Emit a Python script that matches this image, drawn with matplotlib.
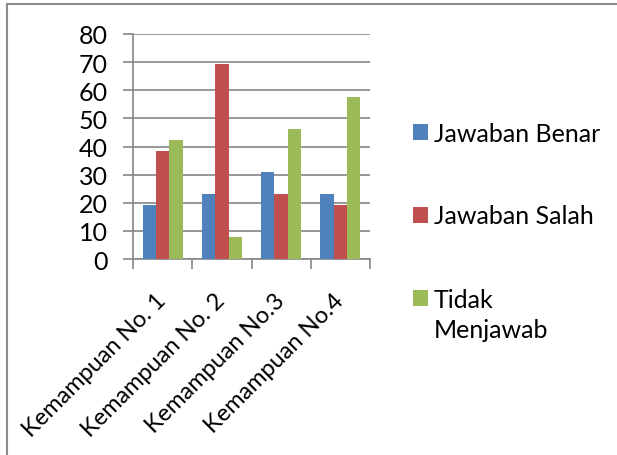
import matplotlib
matplotlib.use("Agg")
import matplotlib.pyplot as plt
import numpy as np
from matplotlib.lines import Line2D

categories = ["Kemampuan No. 1", "Kemampuan No. 2", "Kemampuan No.3", "Kemampuan No.4"]
series_names = ["Jawaban Benar", "Jawaban Salah", "Tidak Menjawab"]
benar = [19.2, 23.1, 30.8, 23.1]
salah = [38.5, 69.2, 23.1, 19.2]
tidak = [42.3, 7.7, 46.2, 57.7]
colors = ["#4F81BD", "#C0504D", "#9BBB59"]
yticks = [0, 10, 20, 30, 40, 50, 60, 70, 80]

plt.rcParams["font.family"] = ["Lato", "DejaVu Sans"]
FS = 18
GRID = "#868686"

fig = plt.figure(figsize=(6.17, 4.56), dpi=100)
ax = fig.add_axes([133 / 617, 1 - 260 / 456, (370 - 133) / 617, (260 - 35) / 456])

x = np.arange(len(categories))
width = 0.225
bars = []
for i, (vals, name, col) in enumerate(zip([benar, salah, tidak], series_names, colors)):
    b = ax.bar(x + (i - 1) * width, vals, width, color=col, label=name, zorder=3)
    bars.append(b)

ax.set_xlim(-0.5, len(categories) - 0.5)
ax.set_ylim(0, 80)
ax.set_yticks(yticks)
ax.yaxis.grid(True, color=GRID, linewidth=1.2, zorder=0)
for side in ["top", "right"]:
    ax.spines[side].set_visible(False)
for side in ["left", "bottom"]:
    ax.spines[side].set_color(GRID)
    ax.spines[side].set_linewidth(1.2)

ax.tick_params(axis="y", length=7, width=1.2, color=GRID, labelsize=FS, pad=11)
ax.set_xticks(x)
ax.set_xticklabels(categories, rotation=45, ha="right", va="center", rotation_mode="anchor", fontsize=17)
ax.tick_params(axis="x", which="major", length=0, pad=27)
ax.set_xticks(np.arange(len(categories) + 1) - 0.5, minor=True)
ax.tick_params(axis="x", which="minor", length=7, width=1.2, color=GRID)

# legend: the last entry wraps onto a second line like the original
leg_labels = ["Jawaban Benar", "Jawaban Salah", "Tidak"]
leg = fig.legend(
    handles=bars,
    labels=leg_labels,
    loc="upper left",
    bbox_to_anchor=(390 / 617, 1 - 100 / 456),
    frameon=False,
    fontsize=FS,
    handlelength=0.6,
    handleheight=0.6,
    handletextpad=0.25,
    labelspacing=2.4,
)
fig.canvas.draw()
bb = leg.get_texts()[-1].get_window_extent()
fig.text(bb.x0 / fig.bbox.width, (bb.y0 - 27) / fig.bbox.height, "Menjawab", fontsize=FS)

# outer chart border (only left and top visible in the crop)
fig.add_artist(Line2D([7 / 617, 7 / 617], [0, 1 - 5 / 456], color="#8C8C8C", linewidth=1.5))
fig.add_artist(Line2D([7 / 617, 1], [1 - 5 / 456, 1 - 5 / 456], color="#8C8C8C", linewidth=1.5))

fig.savefig("out.png", dpi=100)
